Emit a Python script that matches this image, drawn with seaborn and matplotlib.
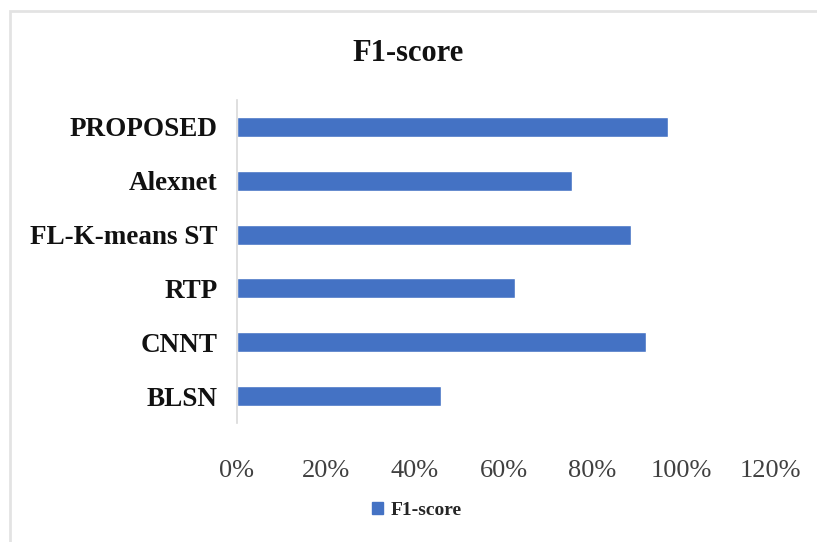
import matplotlib
matplotlib.use("Agg")
import matplotlib.pyplot as plt
import matplotlib.patches as mpatches
import seaborn as sns
import pandas as pd

# F1-score per method (fraction of 1)
methods = ["PROPOSED", "Alexnet", "FL-K-means ST", "RTP", "CNNT", "BLSN"]
f1_scores = [0.97, 0.755, 0.886, 0.625, 0.92, 0.46]
x_ticks = [0.0, 0.2, 0.4, 0.6, 0.8, 1.0, 1.2]
x_tick_labels = ["0%", "20%", "40%", "60%", "80%", "100%", "120%"]
series_name = "F1-score"

df = pd.DataFrame({"Method": methods, "Score": f1_scores, "Metric": series_name})

sns.set_theme(style="white")
plt.rcParams["font.family"] = ["Liberation Serif", "DejaVu Serif"]

fig = plt.figure(figsize=(8.17, 5.42), dpi=100)
ax = fig.add_axes([0.290, 0.2196, 0.6525, 0.5959])

bar_color = "#4472C4"
sns.barplot(data=df, x="Score", y="Method", hue="Metric", orient="h",
            palette=[bar_color], width=0.37, ax=ax, saturation=1)

ax.set_xlim(0, 1.2)
ax.set_ylim(5.5, -0.5)
ax.set_xticks(x_ticks)
ax.set_xticklabels(x_tick_labels, fontsize=19, color="#404040")
ax.set_yticks(range(len(methods)))
ax.set_yticklabels(methods, fontsize=19.5, fontweight="bold", color="#111111")
ax.tick_params(axis="x", length=0, pad=27)
ax.tick_params(axis="y", length=0, pad=14)
ax.set_xlabel("")
ax.set_ylabel("")

for side in ["top", "right", "bottom"]:
    ax.spines[side].set_visible(False)
ax.spines["left"].set_color("#d9d9d9")
ax.spines["left"].set_linewidth(1.2)

fig.text(0.5, 0.902, "F1-score", ha="center", va="center",
         fontsize=22, fontweight="bold", color="#111111")

leg = ax.get_legend()
if leg is not None:
    leg.remove()
handle = mpatches.Patch(color=bar_color)
fig.legend([handle], [series_name], loc="center", bbox_to_anchor=(0.51, 0.058),
           frameon=False, handlelength=0.55, handleheight=0.55, handletextpad=0.4,
           prop={"family": ["Liberation Serif"], "weight": "bold", "size": 14})

# Light frame around the chart area
frame = mpatches.Rectangle((0.0122, -0.2), 1.5, 1.2 - 0.0203, transform=fig.transFigure,
                           fill=False, edgecolor="#e3e3e3", linewidth=2.0)
fig.patches.append(frame)

fig.savefig("out.png", dpi=100)
